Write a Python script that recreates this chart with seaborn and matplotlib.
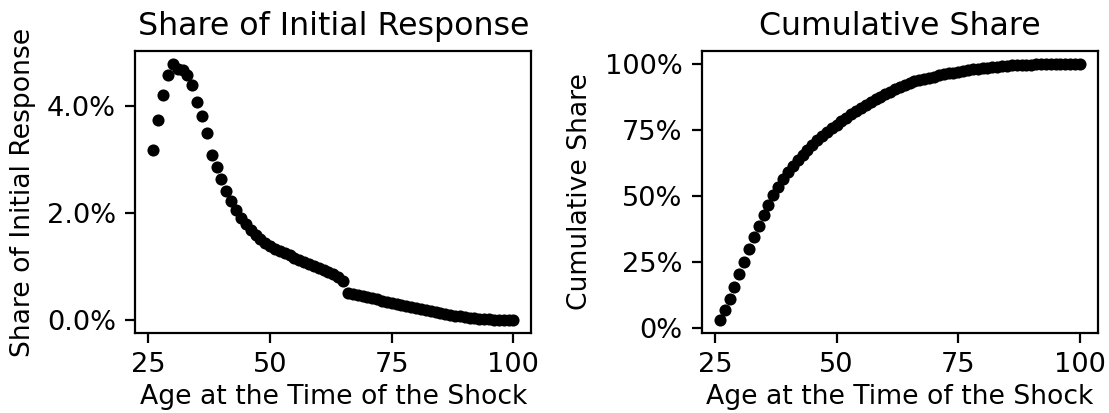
import numpy as np
import matplotlib
matplotlib.use("Agg")
import matplotlib.pyplot as plt
from matplotlib.ticker import PercentFormatter
import seaborn as sns

# share of the initial response by age at the time of the shock (percent)
ages = list(range(26, 101))
share = [
    3.17, 3.74, 4.21, 4.58, 4.78, 4.69, 4.66, 4.58, 4.38, 4.07,   # 26-35
    3.81, 3.50, 3.09, 2.86, 2.64, 2.41, 2.23, 2.06, 1.90, 1.79,   # 36-45
    1.68, 1.60, 1.52, 1.45, 1.38, 1.33, 1.29, 1.25, 1.21, 1.17,   # 46-55
    1.13, 1.09, 1.05, 1.01, 0.98, 0.94, 0.90, 0.86, 0.81, 0.73,   # 56-65
    0.51, 0.49, 0.47, 0.45, 0.43, 0.41, 0.39, 0.37, 0.35, 0.33,   # 66-75
    0.31, 0.29, 0.27, 0.25, 0.23, 0.21, 0.19, 0.17, 0.155, 0.14,  # 76-85
    0.12, 0.105, 0.09, 0.075, 0.06, 0.05, 0.04, 0.03, 0.025, 0.02,  # 86-95
    0.015, 0.012, 0.01, 0.008, 0.006,                             # 96-100
]
# cumulative share (percent)
cumulative = [
    3.18, 6.94, 11.16, 15.76, 20.56, 25.27, 29.95, 34.55, 38.94, 43.03,
    46.85, 50.37, 53.47, 56.34, 58.99, 61.41, 63.65, 65.72, 67.62, 69.42,
    71.10, 72.71, 74.24, 75.69, 77.08, 78.41, 79.71, 80.96, 82.18, 83.35,
    84.48, 85.58, 86.64, 87.65, 88.63, 89.58, 90.48, 91.34, 92.16, 92.89,
    93.40, 93.90, 94.37, 94.82, 95.25, 95.66, 96.05, 96.43, 96.78, 97.11,
    97.42, 97.71, 97.98, 98.23, 98.47, 98.68, 98.87, 99.04, 99.19, 99.33,
    99.45, 99.56, 99.65, 99.72, 99.78, 99.83, 99.87, 99.90, 99.93, 99.95,
    99.96, 99.97, 99.98, 99.99, 100.0,
]

xlabel = "Age at the Time of the Shock"

plt.rcParams["font.size"] = 9.5
plt.rcParams["axes.titlesize"] = 11.4
plt.rcParams["axes.labelsize"] = 9.6
plt.rcParams["xtick.labelsize"] = 9.8
plt.rcParams["ytick.labelsize"] = 9.8

fig, (ax1, ax2) = plt.subplots(1, 2, figsize=(5.545, 2.065), dpi=200)
fig.subplots_adjust(left=0.122, right=0.990, bottom=0.194, top=0.876, wspace=0.43)

sns.scatterplot(x=ages, y=share, ax=ax1, color="black", s=19, linewidth=0)
ax1.set_title("Share of Initial Response")
ax1.set_xlabel(xlabel, labelpad=2)
ax1.set_ylabel("Share of Initial Response")
ax1.set_xticks([25, 50, 75, 100])
ax1.set_yticks([0, 2, 4])
ax1.yaxis.set_major_formatter(PercentFormatter(decimals=1))

sns.scatterplot(x=ages, y=cumulative, ax=ax2, color="black", s=19, linewidth=0)
ax2.set_title("Cumulative Share")
ax2.set_xlabel(xlabel, labelpad=2)
ax2.set_ylabel("Cumulative Share")
ax2.set_xticks([25, 50, 75, 100])
ax2.set_yticks([0, 25, 50, 75, 100])
ax2.yaxis.set_major_formatter(PercentFormatter(decimals=0))

fig.savefig("out.png", dpi=200)
